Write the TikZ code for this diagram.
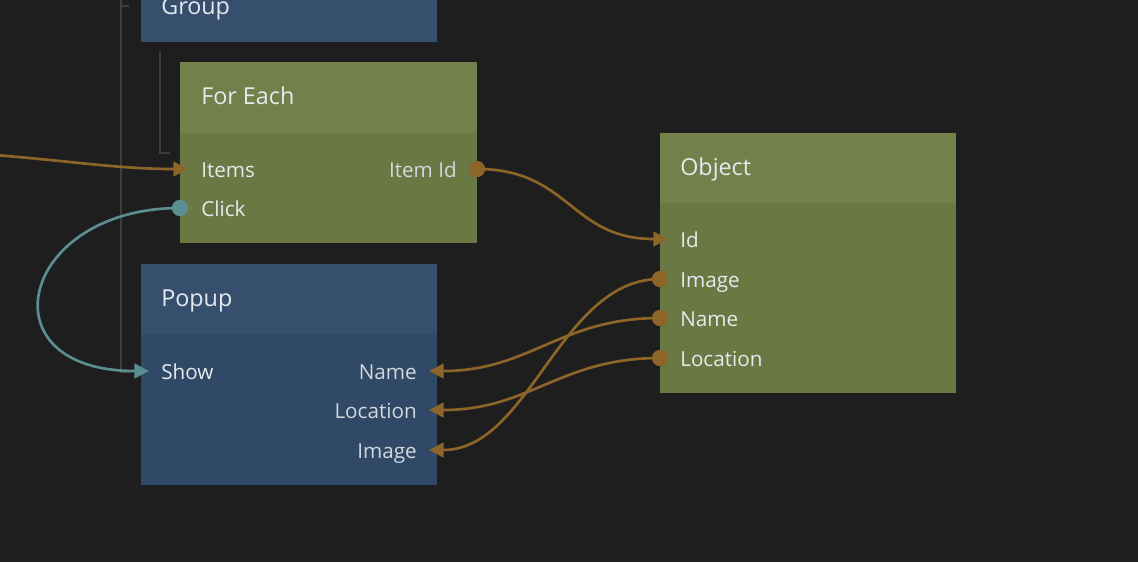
\documentclass[tikz,border=0pt]{standalone}
\usepackage{fontspec}
\setmainfont{Open Sans}
\usetikzlibrary{arrows.meta}
\definecolor{bg}{HTML}{1E1E1E}
\definecolor{bluehdr}{HTML}{354F6D}
\definecolor{bluebody}{HTML}{2F4966}
\definecolor{greenhdr}{HTML}{72814B}
\definecolor{greenbody}{HTML}{6A7843}
\definecolor{wireor}{HTML}{8E6528}
\definecolor{wireteal}{HTML}{5A8E91}
\definecolor{bracketc}{HTML}{3E3E3E}
\definecolor{txtc}{HTML}{E6EAEE}
\definecolor{txtdim}{HTML}{D2D8DE}
\begin{document}
\begin{tikzpicture}[x=0.75pt,y=-0.75pt,
  bracket/.style={draw=bracketc,line width=1.2pt},
  titletxt/.style={anchor=base west,inner sep=0pt,text=txtc,font=\fontsize{17.5pt}{20pt}\selectfont},
  porttxt/.style={anchor=base west,inner sep=0pt,text=txtc,font=\fontsize{15.5pt}{18pt}\selectfont},
  porttxtr/.style={anchor=base east,inner sep=0pt,text=txtdim,font=\fontsize{15.5pt}{18pt}\selectfont},
  owire/.style={draw=wireor,line width=2pt},
  twire/.style={draw=wireteal,line width=2pt},
  otip/.style={-{Triangle[length=11pt,width=11pt]}},
  odot/.style={circle,fill=wireor,inner sep=0pt,minimum size=12pt},
  tdot/.style={circle,fill=wireteal,inner sep=0pt,minimum size=12pt}]
\useasboundingbox (0,0) rectangle (1138,562);
\fill[bg] (0,0) rectangle (1138,562);
\clip (0,0) rectangle (1138,562);

% hierarchy brackets
\draw[bracket] (121,-5) -- (121,372) -- (130,372);
\draw[bracket] (121,6) -- (129,6);
\draw[bracket] (160,52) -- (160,153) -- (170,153);

% Group
\fill[bluehdr] (141,-40) rectangle (437,42);
\node[titletxt] (grp-title) at (161,14) {Group};

% For Each
\fill[greenhdr] (180,62) rectangle (477,133);
\fill[greenbody] (180,133) rectangle (477,243);
\node[titletxt] (fe-title) at (201,104) {For Each};
\node[porttxt] (fe-items-l) at (201,177) {Items};
\node[porttxt] (fe-click-l) at (201,216) {Click};
\node[porttxtr] (fe-itemid-l) at (457,177) {Item Id};

% Popup
\fill[bluehdr] (141,264) rectangle (437,334);
\fill[bluebody] (141,334) rectangle (437,485);
\node[titletxt] (pp-title) at (161,306) {Popup};
\node[porttxt] (pp-show-l) at (161,379) {Show};
\node[porttxtr] (pp-name-l) at (417,379) {Name};
\node[porttxtr] (pp-loc-l) at (417,418) {Location};
\node[porttxtr] (pp-img-l) at (417,458) {Image};

% Object
\fill[greenhdr] (660,133) rectangle (956,203);
\fill[greenbody] (660,203) rectangle (956,393);
\node[titletxt] (ob-title) at (680,175) {Object};
\node[porttxt] (ob-id-l) at (680,247) {Id};
\node[porttxt] (ob-img-l) at (680,287) {Image};
\node[porttxt] (ob-name-l) at (680,326) {Name};
\node[porttxt] (ob-loc-l) at (680,366) {Location};

% port coordinates (arrow tips)
\coordinate (in-src) at (-5,155);
\coordinate (fe-items) at (188,169);
\coordinate (pp-show) at (149,371);
\coordinate (ob-id) at (668,239);
\coordinate (pp-name) at (429,371);
\coordinate (pp-loc) at (429,410);
\coordinate (pp-img) at (429,450);

% output dots
\node[odot] (fe-itemid) at (477,169) {};
\node[tdot] (fe-click) at (180,208) {};
\node[odot] (ob-img) at (660,279) {};
\node[odot] (ob-name) at (660,318) {};
\node[odot] (ob-loc) at (660,358) {};

% connectors
\draw[owire,otip] (in-src) .. controls (80,162) and (120,169) .. (fe-items);
\draw[twire,otip] (fe-click.center) .. controls (20,208) and (-19,371) .. (pp-show);
\draw[owire,otip] (fe-itemid.center) .. controls (570,169) and (570,239) .. (ob-id);
\draw[owire,otip] (ob-img.center) .. controls (560,279) and (530,450) .. (pp-img);
\draw[owire,otip] (ob-name.center) .. controls (560,318) and (530,371) .. (pp-name);
\draw[owire,otip] (ob-loc.center) .. controls (560,358) and (530,410) .. (pp-loc);

% redraw dots on top
\node[odot] at (fe-itemid) {};
\node[tdot] at (fe-click) {};
\node[odot] at (ob-img) {};
\node[odot] at (ob-name) {};
\node[odot] at (ob-loc) {};
\end{tikzpicture}
\end{document}
